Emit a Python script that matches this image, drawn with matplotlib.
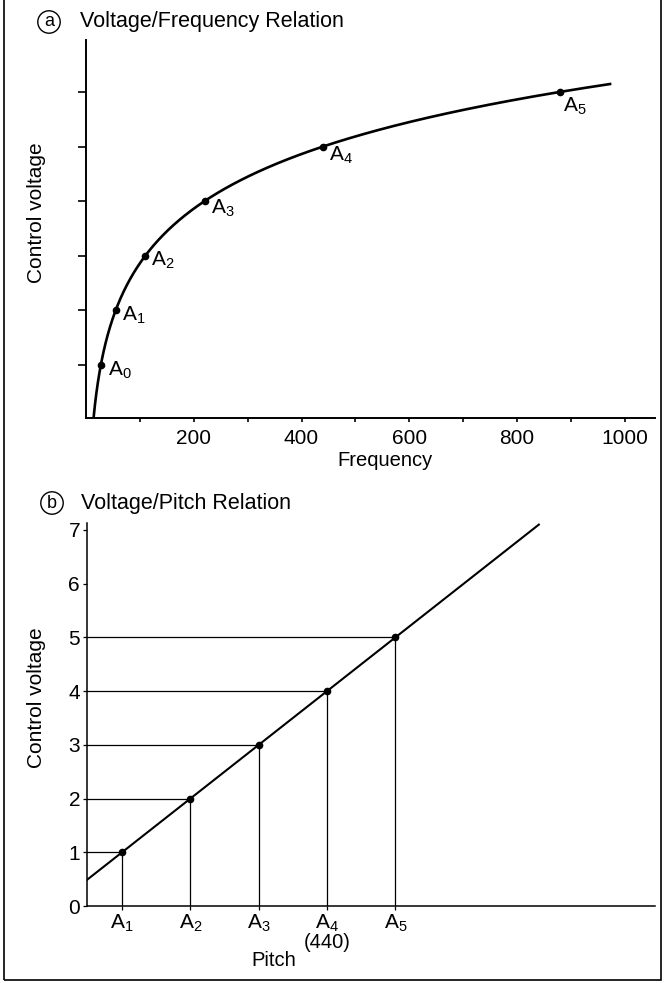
import numpy as np
import matplotlib
matplotlib.use("Agg")
import matplotlib.pyplot as plt
from matplotlib.patches import Rectangle

plt.rcParams['font.family'] = ['Liberation Sans', 'DejaVu Sans']

W, H = 665, 983

# note names and their frequencies (Hz)
notes = ['A$\\mathregular{_0}$', 'A$\\mathregular{_1}$', 'A$\\mathregular{_2}$',
         'A$\\mathregular{_3}$', 'A$\\mathregular{_4}$', 'A$\\mathregular{_5}$']
freqs = [27.5, 55, 110, 220, 440, 880]
volts_a = [0, 1, 2, 3, 4, 5]          # one volt per octave, A0 = 0
freq_ticks = [200, 400, 600, 800, 1000]
freq_minor = [100, 300, 500, 700, 900]
curve_start, curve_end = 14.0, 975.0

# pitch panel: A1..A5 against 1..5 volts
pitch_pos = [1, 2, 3, 4, 5]
pitch_names = notes[1:]
volts_b = [1, 2, 3, 4, 5]
line_x = [0.49, 7.1]
volt_ticks = [0, 1, 2, 3, 4, 5, 6, 7]

TXT = 14.5


def box(l, t, r, b):
    return [l / W, 1 - b / H, (r - l) / W, (b - t) / H]


def fx(x):
    return x / W


def fy(y):
    return 1 - y / H


fig = plt.figure(figsize=(W / 100, H / 100), dpi=100)

# ---------- (a) voltage / frequency ----------
ax = fig.add_axes(box(86, 40, 655, 418))
f = np.geomspace(curve_start, curve_end, 400)
ax.plot(f, np.log2(f / freqs[0]), color='black', lw=1.9, solid_capstyle='butt')
ax.plot(freqs, volts_a, 'o', color='black', ms=4.5)
offs = [(7, -5), (6, -5), (6, -5), (6, -7), (6, -9), (3, -14)]
for name, fr, v, o in zip(notes, freqs, volts_a, offs):
    ax.annotate(name, (fr, v), xytext=o, textcoords='offset pixels',
                fontsize=15, ha='left', va='center')
ax.set_xlim(0, 1056)
ax.set_ylim(-0.97, 5.95)
ax.set_xticks(freq_ticks)
ax.set_xticks(freq_minor, minor=True)
ax.set_yticks(volts_a)
ax.set_yticklabels([])
ax.tick_params(axis='x', which='both', direction='out', length=3, width=1.2,
               labelsize=15, pad=5)
ax.tick_params(axis='y', direction='out', length=6, width=1.2)
for s in ['top', 'right']:
    ax.spines[s].set_visible(False)
for s in ['left', 'bottom']:
    ax.spines[s].set_linewidth(1.4)
fig.text(fx(385), fy(460), 'Frequency', fontsize=TXT, ha='center', va='center')
fig.text(fx(36), fy(213), 'Control voltage', fontsize=TXT + 0.5, rotation=90,
         ha='center', va='center')
fig.text(fx(49), fy(22), 'a', fontsize=13, ha='center', va='center',
         bbox=dict(boxstyle='circle,pad=0.15', fc='white', ec='black', lw=1))
fig.text(fx(80), fy(22), 'Voltage/Frequency Relation', fontsize=15.5,
         ha='left', va='center')

# ---------- (b) voltage / pitch ----------
bx = fig.add_axes(box(87, 523, 655, 906))
x_left = 0.487
bx.plot(line_x, line_x, color='black', lw=1.5)
for p, v in zip(pitch_pos, volts_b):
    bx.plot([x_left, p], [v, v], color='black', lw=0.9)
    bx.plot([p, p], [0, v], color='black', lw=0.9)
bx.plot(pitch_pos, volts_b, 'o', color='black', ms=4.5)
bx.set_xlim(x_left, 8.8)
bx.set_ylim(0, 7.13)
bx.set_xticks(pitch_pos)
bx.set_xticklabels(pitch_names)
bx.set_yticks(volt_ticks)
bx.tick_params(axis='both', direction='out', length=3, width=0.9,
               labelsize=15, pad=2)
for s in ['top', 'right']:
    bx.spines[s].set_visible(False)
for s in ['left', 'bottom']:
    bx.spines[s].set_linewidth(1.1)
bx.text(4, -0.68, '(440)', fontsize=TXT, ha='center', va='center')
fig.text(fx(274), fy(960), 'Pitch', fontsize=TXT, ha='center', va='center')
fig.text(fx(37), fy(698), 'Control voltage', fontsize=TXT + 0.5, rotation=90,
         ha='center', va='center')
fig.text(fx(52), fy(503), 'b', fontsize=13, ha='center', va='center',
         bbox=dict(boxstyle='circle,pad=0.15', fc='white', ec='black', lw=1))
fig.text(fx(81), fy(503), 'Voltage/Pitch Relation', fontsize=15.5,
         ha='left', va='center')

# page frame
fig.patches.append(Rectangle((fx(4), fy(980)), fx(657), fy(-10) - fy(980),
                             transform=fig.transFigure, fill=False,
                             ec='black', lw=1.2))

fig.savefig('out.png', dpi=100)
